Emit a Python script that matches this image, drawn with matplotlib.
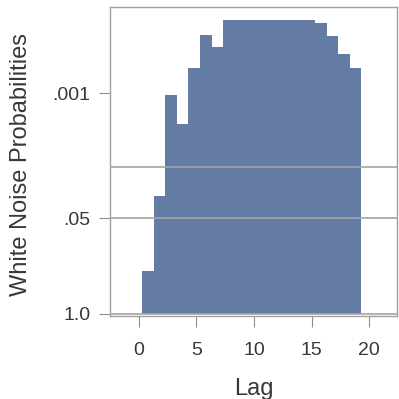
import numpy as np
import matplotlib.pyplot as plt

plt.rcParams['font.family'] = ['Liberation Sans', 'DejaVu Sans']

# lags and white noise probabilities (p-values, clipped at .0001)
lags = np.arange(1, 20)
pvals = [0.26, 0.025, 0.00107, 0.0026, 0.00045, 0.00016, 0.00024,
         0.0001, 0.0001, 0.0001, 0.0001, 0.0001, 0.0001, 0.0001, 0.0001,
         0.00011, 0.00017, 0.00029, 0.00045]
ref_levels = [0.05, 0.01, 1.0]
ytick_vals = [1.0, 0.05, 0.001]
ytick_labels = ['1.0', '.05', '.001']
xtick_vals = [0, 5, 10, 15, 20]

height = -np.log10(pvals)

fig = plt.figure(figsize=(3.99, 3.99), dpi=100)
ax = fig.add_axes([110 / 399, 1 - 316 / 399, 287 / 399, 309 / 399])

ax.bar(lags - 0.7, height, width=1.02, align='edge', color='#647ba3',
       linewidth=0, zorder=2)
for p in ref_levels:
    ax.axhline(-np.log10(p), color='#a4a4a4', lw=1.2, zorder=3)

ax.set_xlim(-2.5, 22.4)
ax.set_ylim(-0.03, 4.17)
ax.set_xticks(xtick_vals)
ax.set_yticks(-np.log10(ytick_vals))
ax.set_yticklabels(ytick_labels)

for s in ax.spines.values():
    s.set_color('#a0a0a0')
    s.set_linewidth(1.0)

ax.tick_params(axis='x', length=8, pad=11, color='#909090', labelsize=14,
               labelcolor='#383838')
ax.tick_params(axis='y', length=8, pad=6, color='#909090', labelsize=14,
               labelcolor='#383838')

ax.set_xlabel('Lag', fontsize=17, color='#383838')
ax.set_ylabel('White Noise Probabilities', fontsize=17, color='#383838')
ax.xaxis.set_label_coords(0.5, -0.2)
ax.yaxis.set_label_coords(-0.272, 0.49)

fig.savefig('out.png', dpi=100)
